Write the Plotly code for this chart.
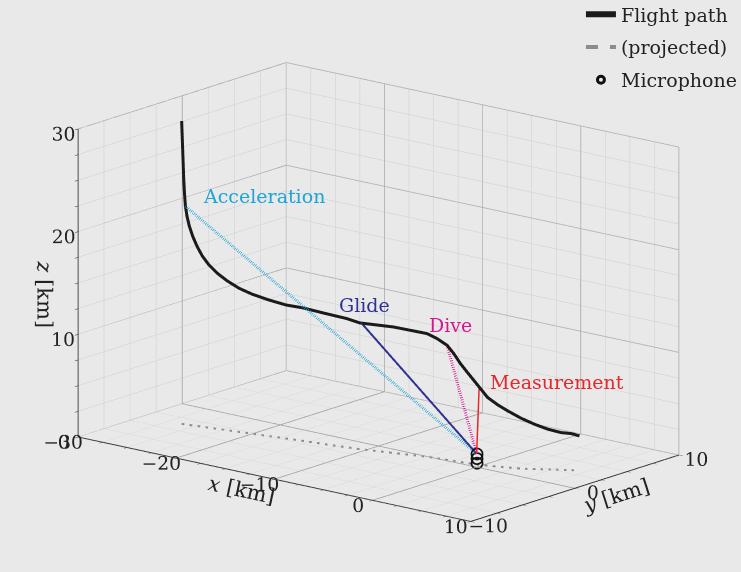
import plotly.graph_objects as go
import numpy as np

# ---- data (km) ----
path_x = [-26.19, -26.01, -25.95, -25.87, -25.73, -25.51, -25.23, -24.85, -24.41, -23.81,
          -23.09, -22.21, -21.17, -20.01, -18.52, -17.06, -15.6, -13.78, -11.72, -10.54,
          -7.77, -5.01, -4.1, -3.18, -2.57, -1.96, -1.34, -0.74, -0.16, 0.37,
          1.15, 1.94, 2.98, 3.87, 4.77, 5.66, 6.33, 6.88]
path_y = [-3.64, -3.61, -3.60, -3.58, -3.56, -3.54, -3.48, -3.42, -3.35, -3.27,
          -3.15, -3.01, -2.86, -2.67, -2.45, -2.22, -1.99, -1.77, -1.46, -1.28,
          -0.67, -0.04, 0.06, 0.16, 0.23, 0.30, 0.36, 0.44, 0.54, 0.69,
          0.92, 1.14, 1.44, 1.89, 2.34, 2.78, 3.12, 3.38]
path_z = [29.5, 23.85, 22.56, 21.25, 20.29, 19.35, 18.41, 17.49, 16.65, 15.86,
          15.16, 14.54, 13.99, 13.58, 13.25, 13.0, 12.95, 12.76, 12.54, 12.29,
          12.27, 11.99, 11.66, 11.16, 10.45, 9.57, 8.85, 8.14, 7.41, 6.65,
          6.02, 5.52, 4.92, 4.37, 3.92, 3.63, 3.56, 3.36]

mic_x = [0.0, 0.0, 0.0]
mic_y = [0.0, 0.0, 0.0]
mic_z = [0.4, 0.85, 1.3]

phase_names = ["Acceleration", "Glide", "Dive", "Measurement"]
phase_x = [-25.87, -10.4, -3.18, -0.3]
phase_y = [-3.58, -1.26, 0.16, 0.52]
phase_z = [21.25, 12.3, 11.16, 7.6]
phase_colors = ["#1ea5d8", "#2e3192", "#d6168f", "#e8262a"]
phase_dash = ["dot", "solid", "dash", "solid"]
phase_width = [6, 4, 6, 3]

x_range = [-30, 10]
y_range = [-10, 10]
z_range = [0, 30]
x_ticks = [-30, -20, -10, 0, 10]
y_ticks = [-10, 0, 10]
z_ticks = [0, 10, 20, 30]
minor_step = 2.5

FONT = "DejaVu Serif"
BG = "#e9e9e9"


def tickset(lo, hi, major):
    vals = list(np.arange(lo, hi + 1e-9, minor_step))
    text = [("\u2212" + str(int(-v)) if v < 0 else str(int(v))) if any(abs(v - m) < 1e-9 for m in major) else "" for v in vals]
    return vals, text


fig = go.Figure()

# major grid lines on the back planes (floor z=min, wall x=min, wall y=max), from tick lists
gx, gy, gz = [], [], []
x0, x1 = x_range
y0, y1 = y_range
z0, z1 = z_range
for v in x_ticks:
    gx += [v, v, None, v, v, None]
    gy += [y0, y1, None, y1, y1, None]
    gz += [z0, z0, None, z0, z1, None]
for v in y_ticks:
    gx += [x0, x1, None, x0, x0, None]
    gy += [v, v, None, v, v, None]
    gz += [z0, z0, None, z0, z1, None]
for v in z_ticks:
    gx += [x0, x0, None, x0, x1, None]
    gy += [y0, y1, None, y1, y1, None]
    gz += [v, v, None, v, v, None]
fig.add_trace(go.Scatter3d(x=gx, y=gy, z=gz, mode="lines",
                           line=dict(color="#959595", width=1.5),
                           showlegend=False, hoverinfo="skip"))

fig.add_trace(go.Scatter3d(
    x=path_x, y=path_y, z=path_z, mode="lines",
    line=dict(color="#1a1a1a", width=6), name="Flight path",
    legendgroup="a", hoverinfo="skip"))
fig.add_trace(go.Scatter3d(
    x=path_x, y=path_y, z=[0] * len(path_z), mode="lines",
    line=dict(color="#8c8c8c", width=4, dash="dash"), name="(projected)",
    legendgroup="b", hoverinfo="skip"))

for i, nm in enumerate(phase_names):
    fig.add_trace(go.Scatter3d(
        x=[phase_x[i], mic_x[-1]], y=[phase_y[i], mic_y[-1]], z=[phase_z[i], mic_z[-1]],
        mode="lines", line=dict(color=phase_colors[i], width=phase_width[i], dash=phase_dash[i]),
        showlegend=False, hoverinfo="skip"))

fig.add_trace(go.Scatter3d(
    x=mic_x, y=mic_y, z=mic_z, mode="markers",
    marker=dict(symbol="circle-open", size=7, color="#111111", line=dict(width=3, color="#111111")),
    name="Microphone", legendgroup="c", hoverinfo="skip"))

xv, xt = tickset(x0, x1, x_ticks)
yv, yt = tickset(y0, y1, y_ticks)
zv, zt = tickset(z0, z1, z_ticks)

axis_common = dict(
    showbackground=False, showgrid=True, gridcolor="#cdcdcd", gridwidth=1,
    showline=True, linecolor="#222222", linewidth=2, zeroline=False,
    ticks="outside", ticklen=5, tickcolor="#222222",
    tickfont=dict(family=FONT, size=15, color="#222222"),
    tickangle=0,
    showspikes=False,
)

ann = []
shifts = [dict(xanchor="left", xshift=16, yshift=10),
          dict(xanchor="center", xshift=3, yshift=18),
          dict(xanchor="center", xshift=3, yshift=20),
          dict(xanchor="left", xshift=9, yshift=5)]
for i, nm in enumerate(phase_names):
    ann.append(dict(x=phase_x[i], y=phase_y[i], z=phase_z[i], text=nm, showarrow=False,
                    font=dict(family=FONT, size=19, color=phase_colors[i]), yanchor="middle", **shifts[i]))

d = 1.8
eye = dict(x=0.6125 * d, y=-0.7457 * d, z=0.262 * d)
s = 1.14
title_font = dict(family=FONT, size=21, color="#222222")

fig.update_layout(
    width=741, height=572,
    margin=dict(l=0, r=0, t=0, b=0, autoexpand=False),
    paper_bgcolor=BG, plot_bgcolor=BG,
    font=dict(family=FONT, size=18, color="#222222"),
    showlegend=True,
    legend=dict(x=0.784, y=1.008, xanchor="left", yanchor="top", bgcolor="rgba(0,0,0,0)",
                font=dict(family=FONT, size=19, color="#222222"),
                traceorder="grouped", tracegroupgap=5),
    scene=dict(
        domain=dict(x=[0.0216, 1.0], y=[0.0, 0.979]),
        bgcolor=BG,
        aspectmode="manual", aspectratio=dict(x=1.592 * s, y=1.028 * s, z=1.0 * s),
        camera=dict(eye=eye, center=dict(x=0, y=0, z=0), up=dict(x=0, y=0, z=1),
                    projection=dict(type="orthographic")),
        xaxis=dict(range=x_range, tickvals=xv, ticktext=xt,
                   title=dict(text="<i>x</i> [km]", font=title_font), **axis_common),
        yaxis=dict(range=y_range, tickvals=yv, ticktext=yt,
                   title=dict(text="<i>y</i> [km]", font=title_font), **axis_common),
        zaxis=dict(range=z_range, tickvals=zv, ticktext=zt,
                   title=dict(text="<i>z</i> [km]", font=title_font), **axis_common),
        annotations=ann,
    ),
)

fig.write_html("out.html")
